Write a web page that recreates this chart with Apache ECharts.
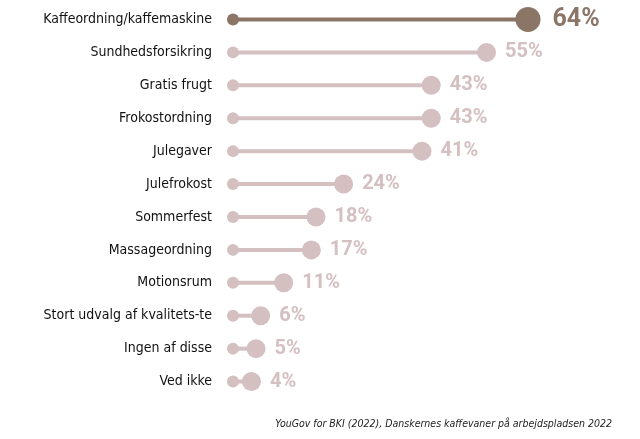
<!DOCTYPE html>
<html>
<head>
<meta charset="utf-8">
<script src="https://cdn.jsdelivr.net/npm/echarts@6/dist/echarts.min.js"></script>
<style>
  html, body { margin: 0; padding: 0; background: #ffffff; }
  #chart { width: 640px; height: 439px; }
</style>
</head>
<body>
<div id="chart"></div>
<script>
// svar i procent, i samme rækkefølge som i figuren (øverst først)
var categories = [
  "Kaffeordning/kaffemaskine", "Sundhedsforsikring", "Gratis frugt", "Frokostordning",
  "Julegaver", "Julefrokost", "Sommerfest", "Massageordning", "Motionsrum",
  "Stort udvalg af kvalitets-te", "Ingen af disse", "Ved ikke"
];
var values = [64, 55, 43, 43, 41, 24, 18, 17, 11, 6, 5, 4];
var sourceText = "YouGov for BKI (2022), Danskernes kaffevaner på arbejdspladsen 2022";

var darkColor = "#8b7566";
var lightColor = "#d4bfc1";

var chart = echarts.init(document.getElementById("chart"));

function colorOf(i) {
  return i === 0 ? darkColor : lightColor;
}

chart.setOption({
  animation: false,
  grid: { left: 233, right: 112, top: 3, bottom: 41 },
  xAxis: {
    type: "value", min: 0, max: 64,
    show: false
  },
  yAxis: {
    type: "category", data: categories, inverse: true,
    axisLine: { show: false }, axisTick: { show: false }, splitLine: { show: false },
    axisLabel: {
      margin: 21, color: "#111111", fontSize: 14,
      fontFamily: "'DejaVu Sans Condensed', sans-serif"
    }
  },
  series: [
    {
      // stilken
      type: "bar", barWidth: 4, silent: true,
      data: values.map(function (v, i) {
        return { value: v, itemStyle: { color: colorOf(i) } };
      })
    },
    {
      // startpunkt
      type: "scatter", symbolSize: 12, silent: true, z: 3,
      data: values.map(function (v, i) {
        return { value: [0, categories[i]], itemStyle: { color: colorOf(i), opacity: 1 } };
      })
    },
    {
      // slutpunkt med procent
      type: "scatter", silent: true, z: 4,
      data: values.map(function (v, i) {
        return {
          value: [v, categories[i]],
          symbolSize: i === 0 ? 25 : 19,
          itemStyle: { color: colorOf(i), opacity: 1 },
          label: {
            show: true, position: "right", distance: i === 0 ? 12 : 9,
            formatter: v + "%",
            color: colorOf(i), fontSize: i === 0 ? 25 : 20, fontWeight: "bold",
            fontFamily: "Roboto, sans-serif"
          }
        };
      })
    }
  ],
  graphic: [{
    type: "text", right: 28, top: 419,
    style: {
      text: sourceText, fill: "#222", fontSize: 10.5, fontStyle: "italic",
      fontFamily: "'DejaVu Sans Condensed', sans-serif"
    }
  }]
});
</script>
</body>
</html>
